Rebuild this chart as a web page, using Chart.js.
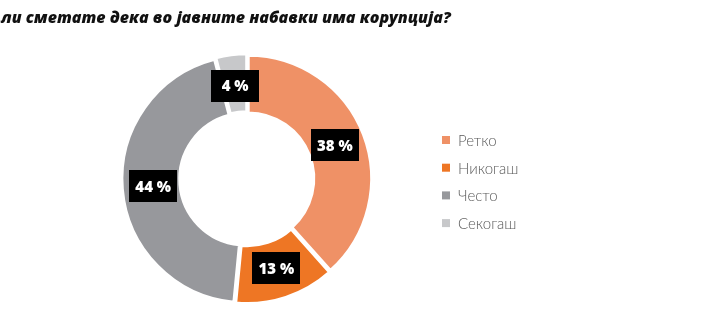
<!DOCTYPE html>
<html>
<head>
<meta charset="utf-8">
<script src="https://cdn.jsdelivr.net/npm/chart.js@4/dist/chart.umd.min.js"></script>
<style>
  html, body { margin: 0; padding: 0; background: #fff; }
  #wrap { position: relative; width: 702px; height: 336px; }
</style>
</head>
<body>
<div id="wrap"><canvas id="c" width="702" height="336"></canvas></div>
<script>
const titleText = 'ли сметате дека во јавните набавки има корупција?';
const categories = ['Ретко', 'Никогаш', 'Често', 'Секогаш'];
const values = [38, 13, 44, 4];
const colors = ['#EF9166', '#EE7624', '#97989C', '#C7C8CA'];

// Title line across the top
const titlePlugin = {
  id: 'titleLine',
  afterDraw(chart) {
    const ctx = chart.ctx;
    ctx.save();
    ctx.font = 'italic 800 16px "Open Sans", sans-serif';
    ctx.fillStyle = '#111';
    ctx.textBaseline = 'alphabetic';
    ctx.textAlign = 'left';
    ctx.fillText(titleText, 1, 23);
    ctx.restore();
  }
};

// Black value boxes on each slice, placed along the slice's mid-angle
const valueBoxes = {
  id: 'valueBoxes',
  afterDatasetsDraw(chart) {
    const ctx = chart.ctx;
    const meta = chart.getDatasetMeta(0);
    ctx.save();
    ctx.font = '800 15px "Open Sans", sans-serif';
    ctx.textAlign = 'center';
    ctx.textBaseline = 'middle';
    meta.data.forEach((arc, i) => {
      const { x, y, startAngle, endAngle, innerRadius, outerRadius } = arc;
      const mid = (startAngle + endAngle) / 2;
      const r = (innerRadius + outerRadius) / 2;
      const px = x + Math.cos(mid) * r;
      const py = y + Math.sin(mid) * r;
      const w = 48, h = 32;
      ctx.fillStyle = '#000';
      ctx.fillRect(Math.round(px - w / 2), Math.round(py - h / 2), w, h);
      ctx.fillStyle = '#fff';
      ctx.fillText(values[i] + ' %', px, py + 1);
    });
    ctx.restore();
  }
};

// Legend column to the right of the ring
const sideLegend = {
  id: 'sideLegend',
  afterDraw(chart) {
    const ctx = chart.ctx;
    ctx.save();
    ctx.font = '300 15px "Lato", sans-serif';
    ctx.textBaseline = 'middle';
    ctx.textAlign = 'left';
    const x0 = 442, y0 = 140, step = 27.7;
    categories.forEach((name, i) => {
      const y = y0 + i * step;
      ctx.fillStyle = colors[i];
      ctx.fillRect(x0, y - 4, 8, 8);
      ctx.fillStyle = '#5a5a5a';
      ctx.fillText(name, x0 + 16, y + 1);
    });
    ctx.restore();
  }
};

new Chart(document.getElementById('c'), {
  type: 'doughnut',
  data: {
    labels: categories,
    datasets: [{
      data: values,
      backgroundColor: colors,
      borderColor: '#fff',
      borderWidth: 3,
      offset: 5,
      hoverOffset: 0
    }]
  },
  options: {
    responsive: false,
    animation: false,
    events: [],
    radius: 123,
    cutout: '53%',
    layout: { padding: { left: 0, right: 702 - 494, top: 22, bottom: 0 } },
    plugins: {
      legend: { display: false },
      tooltip: { enabled: false },
      title: { display: false }
    }
  },
  plugins: [titlePlugin, valueBoxes, sideLegend]
});
</script>
</body>
</html>
